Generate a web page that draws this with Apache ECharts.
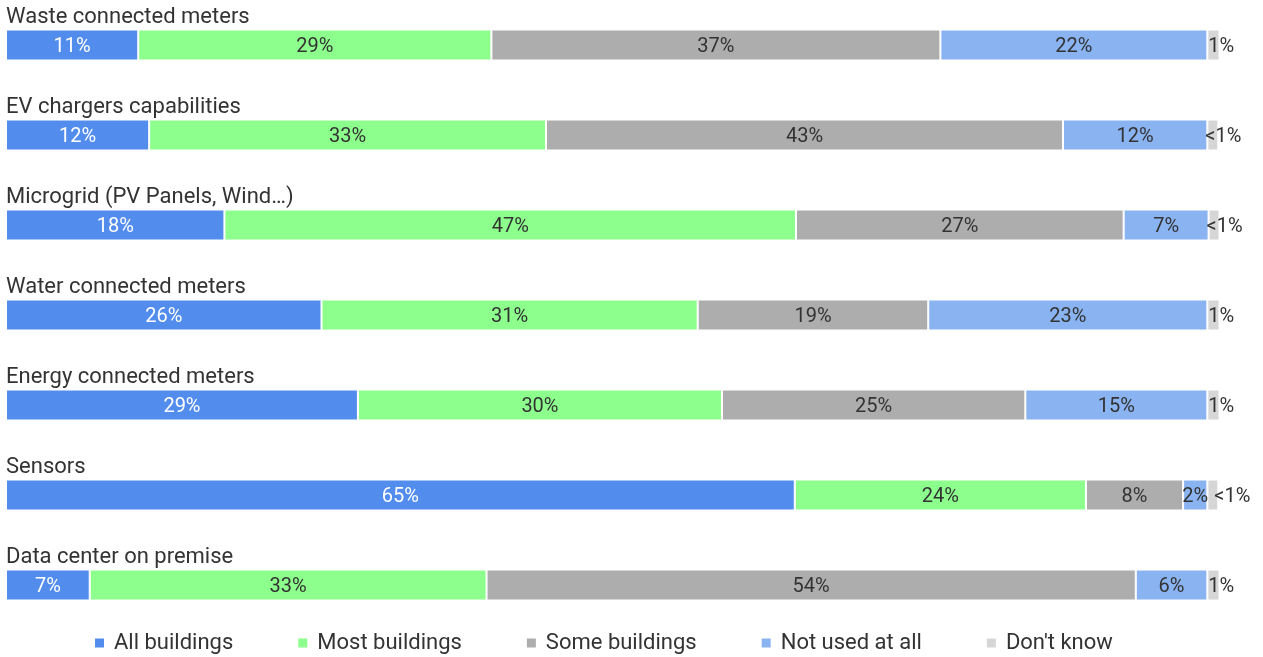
<!DOCTYPE html>
<html>
<head>
<meta charset="utf-8">
<script src="https://cdn.jsdelivr.net/npm/echarts@6/dist/echarts.min.js"></script>
<style>
  html, body { margin: 0; padding: 0; background: #fff; }
  #chart { width: 1263px; height: 657px; }
</style>
</head>
<body>
<div id="chart"></div>
<script>
// Survey: how widely each technology is deployed across buildings (% of respondents)
const categories = [
  'Waste connected meters',
  'EV chargers capabilities',
  'Microgrid (PV Panels, Wind…)',
  'Water connected meters',
  'Energy connected meters',
  'Sensors',
  'Data center on premise'
];
const seriesNames = ['All buildings', 'Most buildings', 'Some buildings', 'Not used at all', "Don't know"];
const allBuildings  = [10.9, 11.8, 18.0, 26.0, 29.0, 65.0, 6.9];
const mostBuildings = [29.1, 32.7, 47.1, 31.0, 30.0, 24.0, 32.7];
const someBuildings = [37.0, 42.6, 27.0, 19.0, 25.0, 8.0, 53.5];
const notUsed       = [22.0, 11.9, 7.0, 23.0, 15.0, 2.0, 5.9];
const dontKnow      = [1.0, 0.9, 0.9, 1.0, 1.0, 0.9, 1.0];

const colors = ['#528DED', '#8CFF8C', '#ADADAD', '#8AB3F2', '#D6D6D6'];
const labelColors = ['#ffffff', '#333333', '#333333', '#333333', '#333333'];
const FONT = 'Roboto, "Noto Sans", sans-serif';

const pct = v => (v < 1 ? '<1%' : Math.round(v) + '%');

const values = [allBuildings, mostBuildings, someBuildings, notUsed, dontKnow];

const series = values.map((vals, i) => {
  const last = i === values.length - 1;
  return {
    name: seriesNames[i],
    type: 'bar',
    stack: 'total',
    barWidth: 31,
    itemStyle: { color: colors[i], borderColor: '#ffffff', borderWidth: 1 },
    label: {
      show: true,
      position: last ? 'insideLeft' : 'inside',
      distance: 0,
      offset: [0, 2],
      color: labelColors[i],
      fontFamily: FONT,
      fontSize: 20,
      formatter: p => pct(p.value)
    },
    emphasis: { disabled: true },
    // the small trailing label moves right when the neighbouring segment label is crowded
    data: vals.map((v, r) => {
      if (!last) return v;
      let dx = v < 1 ? -2 : 1;
      if (notUsed[r] < 3) dx += 9;
      return { value: v, label: { offset: [dx, 2] } };
    })
  };
});

const chart = echarts.init(document.getElementById('chart'), null, { renderer: 'canvas' });
chart.setOption({
  animation: false,
  textStyle: { fontFamily: FONT },
  grid: { left: 6, right: 43.5, top: 0, height: 630 },
  xAxis: { type: 'value', min: 0, max: 100, show: false },
  yAxis: {
    type: 'category',
    inverse: true,
    data: categories,
    axisLine: { show: false },
    axisTick: { show: false },
    axisLabel: {
      inside: true,
      margin: 0,
      align: 'left',
      verticalAlign: 'bottom',
      lineHeight: 26,
      padding: [0, 0, 15, 0],
      fontFamily: FONT,
      fontSize: 22,
      color: '#333333'
    }
  },
  legend: {
    data: seriesNames,
    top: 632,
    left: 93,
    padding: 0,
    icon: 'rect',
    itemWidth: 11,
    itemHeight: 11,
    itemGap: 63,
    textStyle: { fontFamily: FONT, fontSize: 22, color: '#333333', padding: [0, 0, 0, 4] }
  },
  series: series
});
</script>
</body>
</html>
